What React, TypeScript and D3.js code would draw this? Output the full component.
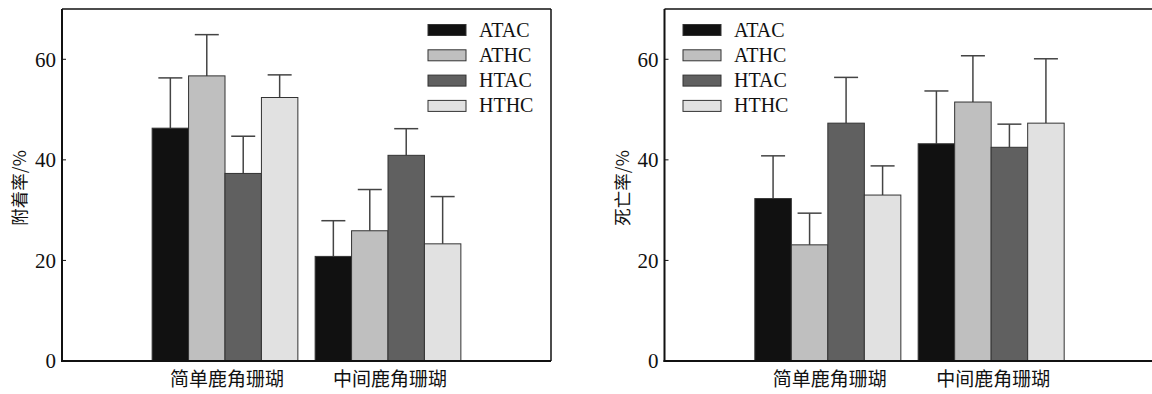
import React, { useEffect, useRef } from "react";
import * as d3 from "d3";

const categories = ["简单鹿角珊瑚", "中间鹿角珊瑚"];
const seriesNames = ["ATAC", "ATHC", "HTAC", "HTHC"];
const seriesColors = ["#111111", "#bfbfbf", "#606060", "#e1e1e1"];
const yTicks = [0, 20, 40, 60];

// 附着率 (mean, upper error) per series, per category
const attachMean = [
  [46.3, 20.8],
  [56.7, 25.9],
  [37.3, 40.9],
  [52.4, 23.3],
];
const attachErr = [
  [10.0, 7.1],
  [8.2, 8.2],
  [7.4, 5.3],
  [4.5, 9.4],
];

// 死亡率
const deathMean = [
  [32.3, 43.2],
  [23.1, 51.5],
  [47.3, 42.5],
  [33.0, 47.3],
];
const deathErr = [
  [8.5, 10.5],
  [6.3, 9.2],
  [9.1, 4.6],
  [5.8, 12.8],
];

const serif = "'Liberation Serif', 'Times New Roman', 'Noto Sans CJK SC', serif";
const cjk = "'Noto Sans CJK SC', 'Liberation Serif', serif";

function drawPanel(
  svg: d3.Selection<SVGSVGElement, unknown, null, undefined>,
  opts: {
    left: number;
    width: number;
    title: string;
    means: number[][];
    errs: number[][];
    legendX: number;
  }
) {
  const top = 9,
    bottom = 361;
  const { left, width, title, means, errs, legendX } = opts;

  const g = svg.append("g");

  const y = d3.scaleLinear().domain([0, 70]).range([bottom, top]);
  const x = d3.scaleLinear().domain([0, 3]).range([left, left + width]);
  const step = x(1) - x(0);
  const inner = d3
    .scaleBand<string>()
    .domain(seriesNames)
    .range([-step * 0.447, step * 0.447]);

  // bars
  categories.forEach((cat, ci) => {
    const cx = x(ci + 1);
    seriesNames.forEach((s, si) => {
      const bx = cx + (inner(s) as number);
      const bw = inner.bandwidth();
      const v = means[si][ci];
      const e = errs[si][ci];
      const mid = bx + bw / 2;
      g.append("line")
        .attr("x1", mid)
        .attr("x2", mid)
        .attr("y1", y(v))
        .attr("y2", y(v + e))
        .attr("stroke", "#444")
        .attr("stroke-width", 1.5);
      g.append("line")
        .attr("x1", mid - 12)
        .attr("x2", mid + 12)
        .attr("y1", y(v + e))
        .attr("y2", y(v + e))
        .attr("stroke", "#444")
        .attr("stroke-width", 1.5);
      g.append("rect")
        .attr("x", bx)
        .attr("y", y(v))
        .attr("width", bw)
        .attr("height", y(0) - y(v))
        .attr("fill", seriesColors[si])
        .attr("stroke", "#333")
        .attr("stroke-width", 1);
    });
    g.append("text")
      .attr("x", cx + 2)
      .attr("y", 386)
      .attr("text-anchor", "middle")
      .attr("font-family", cjk)
      .attr("font-size", 19)
      .attr("fill", "#111")
      .text(cat);
  });

  // frame
  g.append("line")
    .attr("x1", left)
    .attr("x2", left + width)
    .attr("y1", top)
    .attr("y2", top)
    .attr("stroke", "#111")
    .attr("stroke-width", 1.5);
  g.append("line")
    .attr("x1", left + width)
    .attr("x2", left + width)
    .attr("y1", top)
    .attr("y2", bottom)
    .attr("stroke", "#111")
    .attr("stroke-width", 1.5);
  g.append("line")
    .attr("x1", left)
    .attr("x2", left)
    .attr("y1", top)
    .attr("y2", bottom + 1)
    .attr("stroke", "#111")
    .attr("stroke-width", 2);
  g.append("line")
    .attr("x1", left - 1)
    .attr("x2", left + width)
    .attr("y1", bottom)
    .attr("y2", bottom)
    .attr("stroke", "#111")
    .attr("stroke-width", 2);

  // y ticks
  yTicks.forEach((t) => {
    g.append("line")
      .attr("x1", left)
      .attr("x2", left + 4)
      .attr("y1", y(t))
      .attr("y2", y(t))
      .attr("stroke", "#111")
      .attr("stroke-width", 1);
    g.append("text")
      .attr("x", left - 6)
      .attr("y", y(t))
      .attr("dy", "0.35em")
      .attr("text-anchor", "end")
      .attr("font-family", serif)
      .attr("font-size", 21)
      .attr("fill", "#111")
      .text(t);
  });

  // y title
  g.append("text")
    .attr("transform", `translate(${left - 42}, ${(top + bottom) / 2 + 3}) rotate(-90)`)
    .attr("text-anchor", "middle")
    .attr("dy", "0.35em")
    .attr("font-family", cjk)
    .attr("font-size", 17.5)
    .attr("fill", "#111")
    .text(title);

  // legend
  seriesNames.forEach((s, si) => {
    const ry = 30 + si * 25.3;
    g.append("rect")
      .attr("x", legendX)
      .attr("y", ry - 5.5)
      .attr("width", 38)
      .attr("height", 11)
      .attr("fill", seriesColors[si])
      .attr("stroke", "#333")
      .attr("stroke-width", 1);
    g.append("text")
      .attr("x", legendX + 51)
      .attr("y", ry + 6.5)
      .attr("font-family", serif)
      .attr("font-size", 20)
      .attr("fill", "#111")
      .text(s);
  });
}

export default function App() {
  const svgRef = useRef<SVGSVGElement>(null);

  useEffect(() => {
    const svg = d3.select(svgRef.current as SVGSVGElement);
    svg.selectAll("*").remove();

    drawPanel(svg, {
      left: 62,
      width: 489,
      title: "附着率/%",
      means: attachMean,
      errs: attachErr,
      legendX: 428,
    });
    drawPanel(svg, {
      left: 664.5,
      width: 490,
      title: "死亡率/%",
      means: deathMean,
      errs: deathErr,
      legendX: 683,
    });
  }, []);

  return (
    <div style={{ position: "absolute", left: 0, top: 0 }}>
      <svg ref={svgRef} width={1152} height={394} style={{ display: "block", background: "#fff" }} />
    </div>
  );
}
